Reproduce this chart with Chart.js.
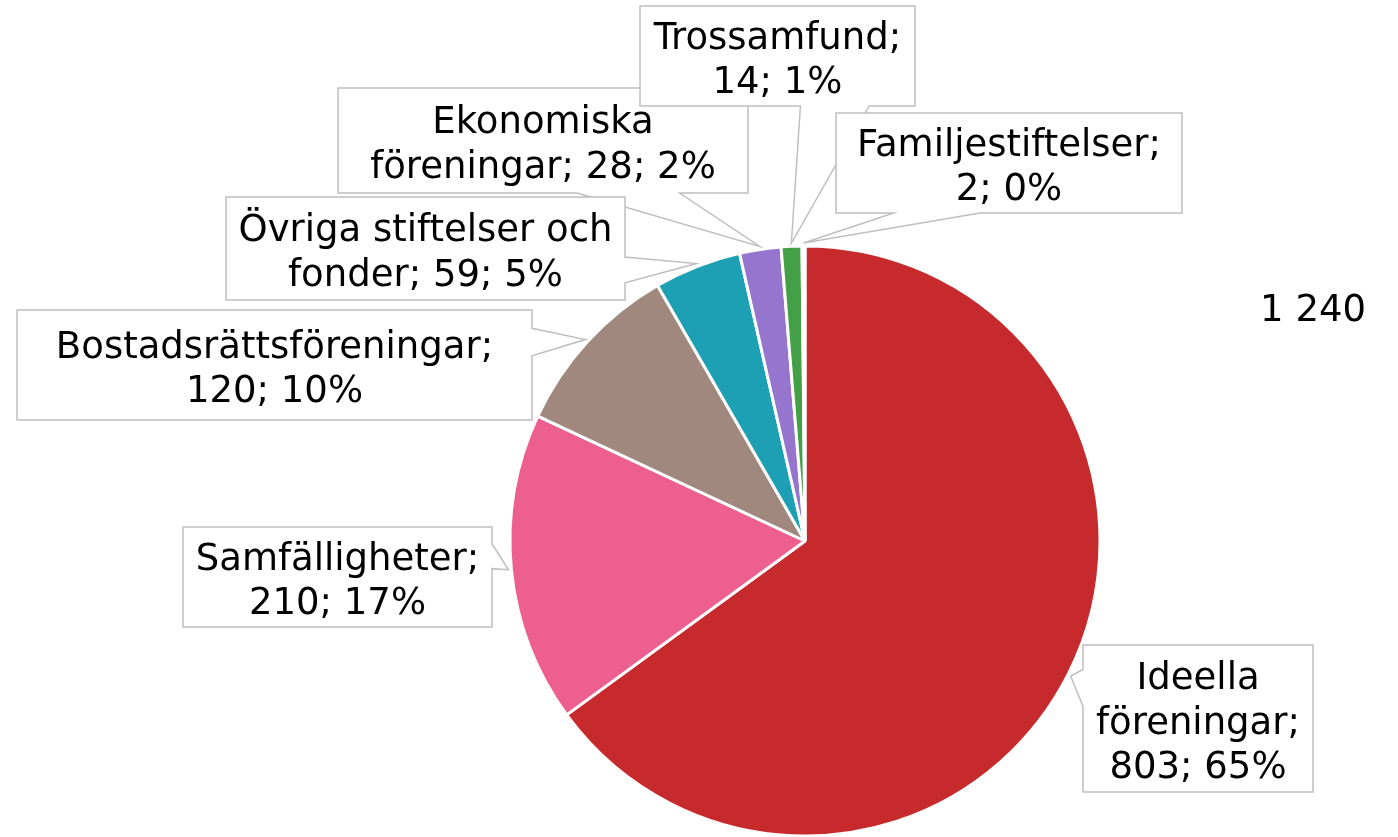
<!DOCTYPE html>
<html>
<head>
<meta charset="utf-8">
<script src="https://cdn.jsdelivr.net/npm/chart.js@4/dist/chart.umd.min.js"></script>
<style>
  html, body { margin: 0; padding: 0; background: #fff; }
  #wrap { position: relative; width: 1398px; height: 837px; }
</style>
</head>
<body>
<div id="wrap"><canvas id="pie"></canvas></div>
<script>
// --- data ---
const categories = ["Ideella föreningar", "Samfälligheter", "Bostadsrättsföreningar",
  "Övriga stiftelser och fonder", "Ekonomiska föreningar", "Trossamfund", "Familjestiftelser"];
const counts = [803, 210, 120, 59, 28, 14, 2];
const shares = [65, 17, 10, 5, 2, 1, 0];
const totalLabel = "1 240";
const sliceColors = ["#C62A2C", "#EC5F8E", "#A0887E", "#1DA0B3", "#9575CD", "#43A047", "#F5A623"];

// --- callout layout (box in px, words per line) ---
const callouts = [
  { x: 1083, y: 645, w: 230, h: 147, lines: [1, 1, 2] },
  { x: 183,  y: 527, w: 309, h: 100, lines: [1, 2] },
  { x: 17,   y: 310, w: 515, h: 110, lines: [1, 2] },
  { x: 226,  y: 197, w: 399, h: 103, lines: [3, 3] },
  { x: 338,  y: 88,  w: 410, h: 105, lines: [1, 3] },
  { x: 640,  y: 6,   w: 275, h: 100, lines: [1, 2] },
  { x: 836,  y: 113, w: 346, h: 100, lines: [1, 2] },
];
const drawOrder = [0, 1, 2, 4, 3, 5, 6];
const FONT = "37px 'DejaVu Sans', Verdana, sans-serif";

function labelLines(i) {
  const words = `${categories[i]}; ${counts[i]}; ${shares[i]}%`.split(" ");
  const out = [];
  let k = 0;
  callouts[i].lines.forEach(n => { out.push(words.slice(k, k + n).join(" ")); k += n; });
  return out;
}

// excel-like wedgeRectCallout
function calloutPath(ctx, b, tx, ty) {
  const cx = b.x + b.w / 2, cy = b.y + b.h / 2;
  const dx = tx - cx, dy = ty - cy;
  const dz = Math.abs(dy) - Math.abs(dx * b.h / b.w);
  const x1 = b.x + b.w * (dx > 0 ? 7 : 2) / 12, x2 = b.x + b.w * (dx > 0 ? 10 : 5) / 12;
  const y1 = b.y + b.h * (dy > 0 ? 7 : 2) / 12, y2 = b.y + b.h * (dy > 0 ? 10 : 5) / 12;
  let side;
  if (dz > 0) side = dy < 0 ? "top" : "bottom";
  else side = dx < 0 ? "left" : "right";
  const r = b.x + b.w, btm = b.y + b.h;
  ctx.beginPath();
  ctx.moveTo(b.x, b.y);
  if (side === "top") { ctx.lineTo(x1, b.y); ctx.lineTo(tx, ty); ctx.lineTo(x2, b.y); }
  ctx.lineTo(r, b.y);
  if (side === "right") { ctx.lineTo(r, y1); ctx.lineTo(tx, ty); ctx.lineTo(r, y2); }
  ctx.lineTo(r, btm);
  if (side === "bottom") { ctx.lineTo(x2, btm); ctx.lineTo(tx, ty); ctx.lineTo(x1, btm); }
  ctx.lineTo(b.x, btm);
  if (side === "left") { ctx.lineTo(b.x, y2); ctx.lineTo(tx, ty); ctx.lineTo(b.x, y1); }
  ctx.closePath();
}

const calloutPlugin = {
  id: "callouts",
  afterDatasetsDraw(chart) {
    const ctx = chart.ctx;
    const arcs = chart.getDatasetMeta(0).data;
    ctx.save();
    drawOrder.forEach(i => {
      const a = arcs[i];
      const mid = (a.startAngle + a.endAngle) / 2;
      const tx = a.x + Math.cos(mid) * (a.outerRadius + 3);
      const ty = a.y + Math.sin(mid) * (a.outerRadius + 3);
      const b = callouts[i];
      calloutPath(ctx, b, tx, ty);
      ctx.fillStyle = "#fff";
      ctx.fill();
      ctx.strokeStyle = "#BFBFBF";
      ctx.lineWidth = 1.5;
      ctx.stroke();
      const lines = labelLines(i);
      const lh = 44.5;
      ctx.fillStyle = "#000";
      ctx.font = FONT;
      ctx.textAlign = "center";
      ctx.textBaseline = "middle";
      const y0 = b.y + b.h / 2 + 5.5 - (lines.length - 1) * lh / 2;
      lines.forEach((t, j) => ctx.fillText(t, b.x + b.w / 2, y0 + j * lh));
    });
    ctx.font = FONT;
    ctx.textAlign = "right";
    ctx.textBaseline = "middle";
    ctx.fillStyle = "#000";
    ctx.fillText(totalLabel, 1366, 311);
    ctx.restore();
  }
};

new Chart(document.getElementById("pie"), {
  type: "pie",
  data: {
    labels: categories,
    datasets: [{
      data: counts,
      backgroundColor: sliceColors,
      borderColor: "#fff",
      borderWidth: 3,
    }],
  },
  options: {
    responsive: true,
    maintainAspectRatio: false,
    animation: false,
    radius: 295,
    layout: { padding: { left: 510, right: 298, top: 246, bottom: 1 } },
    plugins: { legend: { display: false }, tooltip: { enabled: false } },
  },
  plugins: [calloutPlugin],
});
</script>
</body>
</html>
